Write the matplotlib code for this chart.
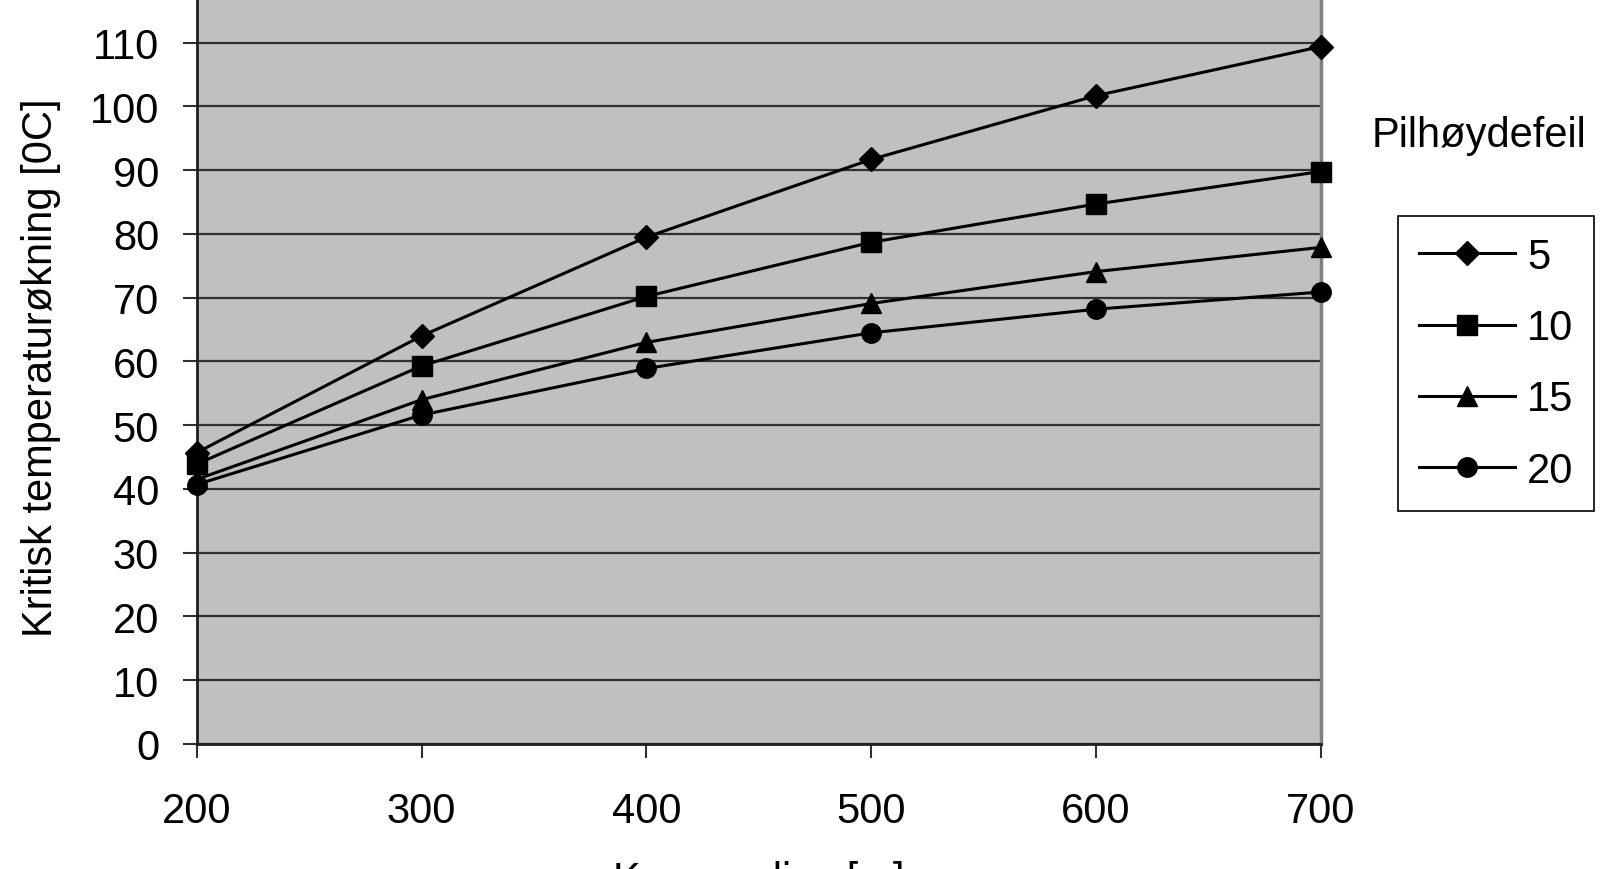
import numpy as np
import matplotlib
matplotlib.use('Agg')
import matplotlib.pyplot as plt

plt.rcParams['font.family'] = ['Liberation Sans', 'DejaVu Sans']

# curve radius [m]
radius = [200, 300, 400, 500, 600, 700]
series_labels = ['5', '10', '15', '20']
temp_5 = [45.7, 64.0, 79.5, 91.7, 101.7, 109.4]
temp_10 = [43.9, 59.3, 70.2, 78.7, 84.7, 89.8]
temp_15 = [41.5, 54.0, 63.0, 69.1, 74.1, 77.9]
temp_20 = [40.7, 51.6, 58.9, 64.5, 68.2, 70.9]
y_ticks = list(range(0, 120, 10))

markers = ['D', 's', '^', 'o']
msizes = [12, 14, 15, 14]

fig = plt.figure(figsize=(16, 8.7), dpi=100)
ax = fig.add_axes([0.1229, 0.1437, 0.8256 - 0.1229, 1.023 - 0.1437])
ax.set_facecolor('#c0c0c0')

for vals, lab, m, ms in zip([temp_5, temp_10, temp_15, temp_20], series_labels, markers, msizes):
    ax.plot(radius, vals, color='black', lw=2.2, marker=m, ms=ms,
            markerfacecolor='black', markeredgecolor='black', label=lab, clip_on=False, zorder=3)

ax.set_xlim(200, 700)
ax.set_ylim(0, 120)
ax.set_xticks(radius)
ax.set_yticks(y_ticks)
ax.yaxis.grid(True, color='#303030', lw=1.6)
ax.set_axisbelow(True)

ax.tick_params(axis='both', direction='out', length=10, width=1.5, labelsize=30, color='#303030')
ax.tick_params(axis='y', pad=17)
ax.tick_params(axis='x', pad=24)
for s in ['left', 'bottom']:
    ax.spines[s].set_color('#202020')
    ax.spines[s].set_linewidth(2)
ax.spines['right'].set_color('#808080')
ax.spines['right'].set_linewidth(2.5)
ax.spines['top'].set_visible(False)

fig.text(41 / 1600, 0.577, 'Kritisk temperaturøkning [0C]', rotation=90,
         ha='center', va='center', fontsize=30)
fig.text(0.4745, 9 / 870, 'Kurveradius [m]', ha='center', va='top', fontsize=30)

fig.text(1372 / 1600, 1 - 136 / 870, 'Pilhøydefeil', ha='left', va='center', fontsize=30)
leg = fig.legend(loc='upper left', bbox_to_anchor=(1398 / 1600, 1 - 217 / 870),
                 borderaxespad=0, fontsize=30, handlelength=2.3, handletextpad=0.3,
                 labelspacing=0.75, fancybox=False, edgecolor='black', framealpha=1,
                 borderpad=0.5)
leg.get_frame().set_linewidth(1.2)

fig.savefig('out.png', dpi=100)
